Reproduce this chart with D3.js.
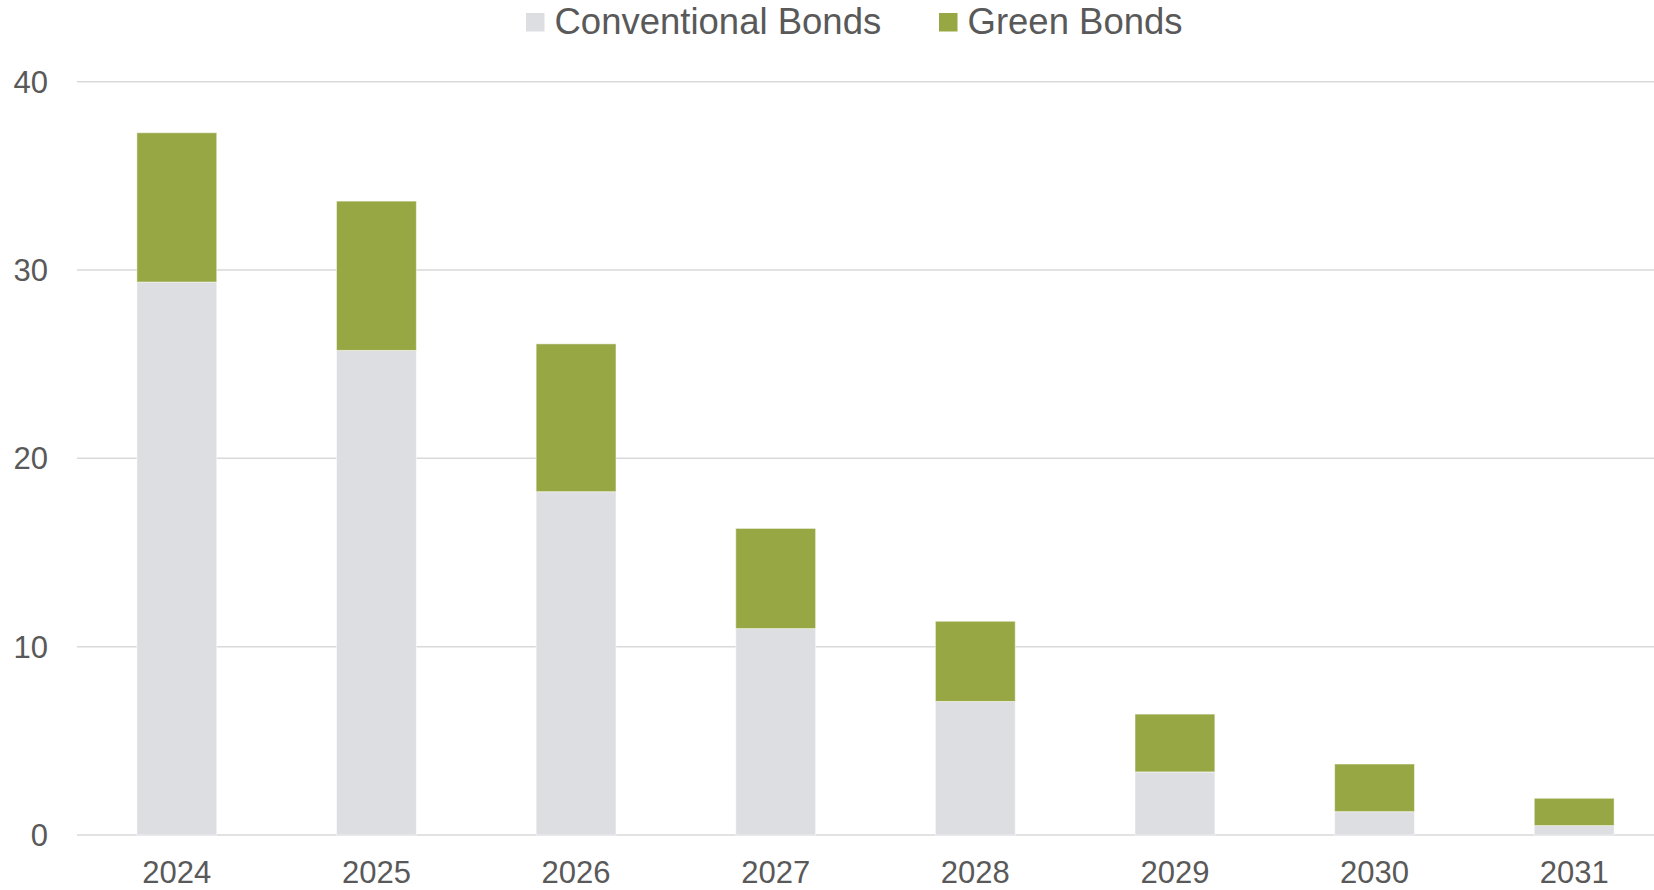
<!DOCTYPE html>
<html>
<head>
<meta charset="utf-8">
<script src="https://cdn.jsdelivr.net/npm/d3@7"></script>
<style>
  html, body { margin: 0; padding: 0; background: #fff; }
  svg text { font-family: "Liberation Sans", Arial, sans-serif; fill: #595959; }
</style>
</head>
<body>
<div id="chart-container"></div>
<script>
// Chart data
const years = ['2024', '2025', '2026', '2027', '2028', '2029', '2030', '2031'];
const conventional = [29.36, 25.73, 18.23, 10.96, 7.09, 3.35, 1.24, 0.50];
const green = [7.93, 7.93, 7.85, 5.32, 4.26, 3.07, 2.53, 1.45];
const yTicks = [0, 10, 20, 30, 40];
const seriesNames = ['Conventional Bonds', 'Green Bonds'];
const seriesColors = ['#dddee2', '#97a744'];

function renderChart() {
    const width = 1654;
    const height = 890;
    const left = 77, right = 1674, top = 81.7, bottom = 835;

    const svg = d3.select('#chart-container').append('svg')
        .attr('width', width)
        .attr('height', height);

    const x = d3.scaleBand().domain(years).range([left, right]).paddingInner(0.6).paddingOuter(0.3);
    const y = d3.scaleLinear().domain([0, 40]).range([bottom, top]);

    // Gridlines
    svg.append('g')
        .selectAll('line')
        .data(yTicks)
        .enter()
        .append('line')
        .attr('x1', left)
        .attr('x2', width)
        .attr('y1', d => y(d))
        .attr('y2', d => y(d))
        .attr('stroke', '#d9d9d9')
        .attr('stroke-width', 1.5);

    // Y tick labels
    svg.append('g')
        .selectAll('text')
        .data(yTicks)
        .enter()
        .append('text')
        .attr('x', 48)
        .attr('y', d => y(d) + 11)
        .attr('text-anchor', 'end')
        .attr('font-size', 31)
        .text(d => d);

    // Stacked bars
    const rows = years.map((yr, i) => ({ year: yr, conv: conventional[i], green: green[i] }));
    const stack = d3.stack().keys(['conv', 'green'])(rows);

    svg.append('g')
        .selectAll('g')
        .data(stack)
        .enter()
        .append('g')
        .attr('fill', (d, i) => seriesColors[i])
        .selectAll('rect')
        .data(d => d)
        .enter()
        .append('rect')
        .attr('x', d => x(d.data.year))
        .attr('width', x.bandwidth())
        .attr('y', d => y(d[1]))
        .attr('height', d => y(d[0]) - y(d[1]))
        .attr('stroke', '#ffffff')
        .attr('stroke-opacity', 0.5)
        .attr('stroke-width', 1);

    // X labels
    svg.append('g')
        .selectAll('text')
        .data(years)
        .enter()
        .append('text')
        .attr('x', d => x(d) + x.bandwidth() / 2)
        .attr('y', 883)
        .attr('text-anchor', 'middle')
        .attr('font-size', 31)
        .text(d => d);

    // Legend
    const legendX = [526, 939];
    const legend = svg.append('g')
        .selectAll('g')
        .data(seriesNames)
        .enter()
        .append('g')
        .attr('transform', (d, i) => `translate(${legendX[i]},0)`);

    legend.append('rect')
        .attr('x', 0)
        .attr('y', 13)
        .attr('width', 18.5)
        .attr('height', 18.5)
        .attr('fill', (d, i) => seriesColors[i]);

    legend.append('text')
        .attr('x', 28.5)
        .attr('y', 34)
        .attr('font-size', 36.5)
        .text(d => d);
}

renderChart();
</script>
</body>
</html>
